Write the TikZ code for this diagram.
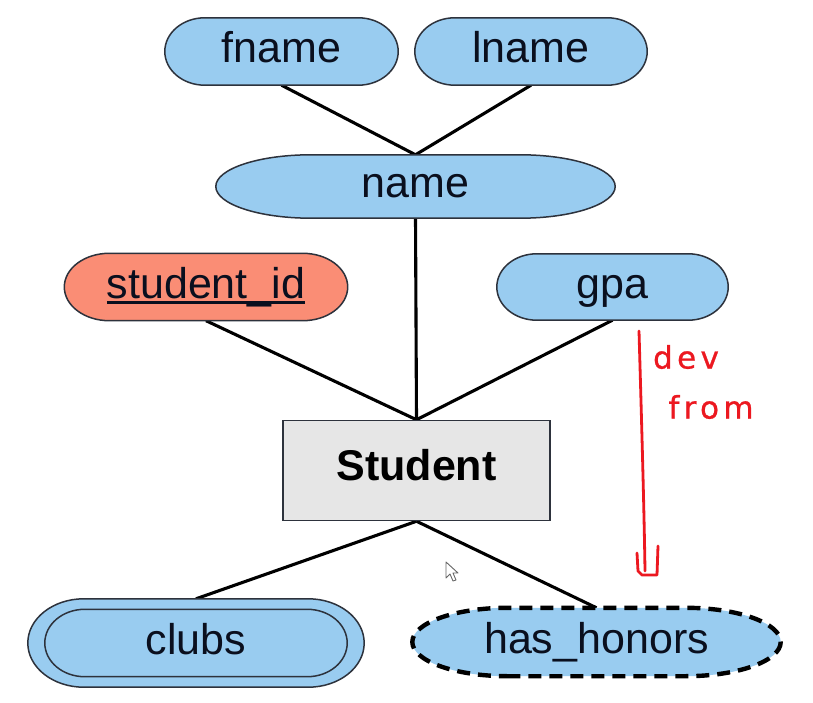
\documentclass[tikz,border=0pt]{standalone}
\usepackage{fontspec}
\setmainfont{Liberation Sans}
\newfontfamily\penfont{DejaVu Sans}[LetterSpace=14, FakeBold=0.8]
\usetikzlibrary{calc}

\pgfdeclarelayer{links}
\pgfdeclarelayer{outlines}
\pgfsetlayers{links,outlines,main}

\definecolor{attrblue}{RGB}{153,204,240}
\definecolor{keysalmon}{RGB}{250,141,117}
\definecolor{entgray}{RGB}{230,230,230}
\definecolor{rimgray}{RGB}{45,50,60}
\definecolor{inkred}{RGB}{236,24,32}
\definecolor{labelink}{RGB}{10,15,30}

% capsule outline round a node: #2 node, #3 end radius (pt), #4/#5 horizontal/vertical inset (pt)
\newcommand\capsule[5][]{%
  \path[#1] let \p1=($(#2.south west)+(#4pt,#5pt)$), \p2=($(#2.north east)-(#4pt,#5pt)$),
      \n1={(\y2-\y1)/2} in
    (\x1+#3pt,\y1) -- (\x2-#3pt,\y1)
    arc[start angle=-90,end angle=90,x radius=#3pt,y radius=\n1]
    -- (\x1+#3pt,\y2)
    arc[start angle=90,end angle=270,x radius=#3pt,y radius=\n1] -- cycle;}

% key attribute text with a heavier underline
\newcommand\keyline[1]{{\setbox0\hbox{#1}\rlap{\rule[-5.5pt]{\wd0}{2.6pt}}\box0}}

\tikzset{
  x=1pt, y=1pt,
  box/.style 2 args={inner sep=0pt, minimum width=#1pt, minimum height=#2pt,
    text height=23pt, text depth=0pt,
    font=\fontsize{43}{50}\selectfont, text=labelink},
  attrfill/.style={fill=attrblue, draw=rimgray, line width=1.5pt},
  keyfill/.style={fill=keysalmon, draw=rimgray, line width=1.5pt},
  multiline/.style={draw=rimgray, line width=1.5pt},
  derived/.style={fill=attrblue, draw=black, line width=4.4pt, dash pattern=on 13pt off 8pt},
  entity/.style={box={267}{100}, text height=19pt, text=black,
    fill=entgray, draw=rimgray, line width=1.5pt,
    font=\fontsize{43}{50}\selectfont\bfseries},
  link/.style={line width=3.1pt, black},
  ink/.style={inkred, line width=2.8pt, line cap=round, line join=round},
  pentext/.style={inkred, inner sep=0pt, font=\penfont\fontsize{31}{34}\selectfont},
}

\begin{document}
\begin{tikzpicture}
\useasboundingbox (0,0) rectangle (813,702);

% attributes and entity
\node[box={233}{67}] (fname) at (281.5,650.5) {fname};
\node[box={232}{67}] (lname) at (531,650.5) {lname};
\node[box={399}{63}] (name) at (415.5,515.5) {name};
\node[box={283}{67}] (sid) at (206,415) {\keyline{student\_id}};
\node[box={231}{66}] (gpa) at (612.5,415) {gpa};
\node[entity] (student) at (416.5,231.5) {Student};
\node[box={336}{88}] (clubs) at (196,59) {clubs};
\node[box={368}{68}] (honors) at (596.5,60) {has\_honors};

\begin{pgfonlayer}{outlines}
  \capsule[attrfill]{fname}{40}{0}{0}
  \capsule[attrfill]{lname}{40}{0}{0}
  \capsule[attrfill]{name}{95}{0}{0}
  \capsule[keyfill]{sid}{45}{0}{0}
  \capsule[attrfill]{gpa}{40}{0}{0}
  \capsule[attrfill]{clubs}{56}{0}{0}
  \capsule[multiline]{clubs}{40}{17}{10.5}
  \capsule[derived]{honors}{95}{0}{0}
\end{pgfonlayer}

\begin{pgfonlayer}{links}
  \fill[white] (0,0) rectangle (813,702);
  \draw[link] (fname.south) -- (name.north);
  \draw[link] (lname.south) -- (name.north);
  \draw[link] (name.south) -- (student.north);
  \draw[link] (sid.south) -- (student.north);
  \draw[link] (gpa.south) -- (student.north);
  \draw[link] (student.south) -- (clubs.north);
  \draw[link] (student.south) -- (honors.north);
\end{pgfonlayer}

% hand-drawn note
\draw[ink] (639,371) .. controls (641,300) and (644,200) .. (645,131);
\draw[ink] (637,149) -- (638,131) -- (642,127) -- (657,127) -- (658,156);
\node[pentext] (dev) at (686,345) {dev};
\node[pentext] (from) at (711,295) {from};

% mouse pointer
\draw[gray!80!black, fill=white, line width=0.9pt, line join=round]
  (446,140) -- (446,124) -- (450,128) -- (453,121) -- (456,122) -- (453,129) -- (458,129) -- cycle;
\end{tikzpicture}
\end{document}
